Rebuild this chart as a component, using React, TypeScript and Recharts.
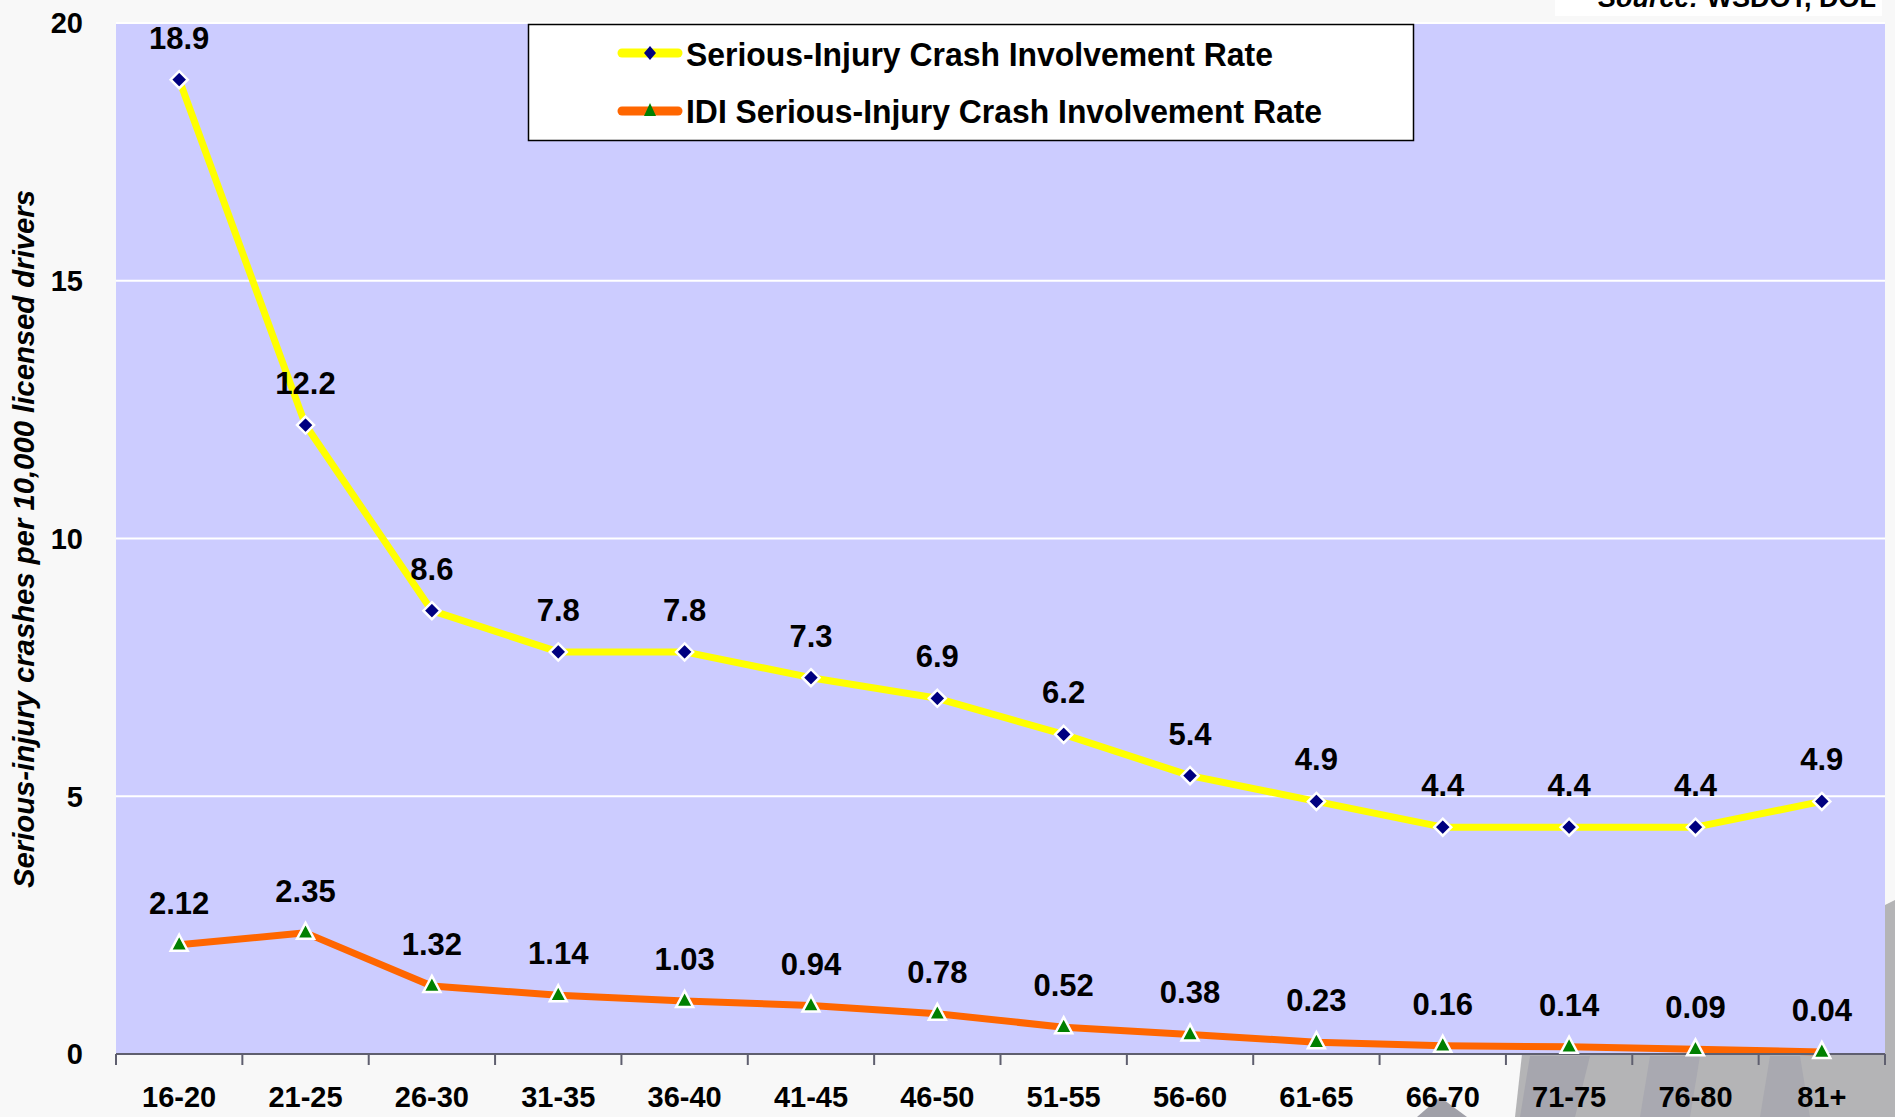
import React from 'react';
import { LineChart, Line, XAxis, YAxis, CartesianGrid, LabelList } from 'recharts';

const ageGroups = ['16-20', '21-25', '26-30', '31-35', '36-40', '41-45', '46-50', '51-55', '56-60', '61-65', '66-70', '71-75', '76-80', '81+'];
const seriousInjuryRate = [18.9, 12.2, 8.6, 7.8, 7.8, 7.3, 6.9, 6.2, 5.4, 4.9, 4.4, 4.4, 4.4, 4.9];
const idiSeriousInjuryRate = [2.12, 2.35, 1.32, 1.14, 1.03, 0.94, 0.78, 0.52, 0.38, 0.23, 0.16, 0.14, 0.09, 0.04];
const yTicks = [0, 5, 10, 15, 20];
const seriesNames = ['Serious-Injury Crash Involvement Rate', 'IDI Serious-Injury Crash Involvement Rate'];
const yAxisTitle = 'Serious-injury crashes per 10,000 licensed drivers';
const sourceNote = ['Source:', 'WSDOT, DOL'];

const data = ageGroups.map((age, i) => ({ age, serious: seriousInjuryRate[i], idi: idiSeriousInjuryRate[i] }));

const W = 1895;
const H = 1117;
const M = { top: 23, right: 10, bottom: 0, left: 0 };
const Y_AXIS_W = 116;
const X_AXIS_H = 63;
const PLOT_W = W - Y_AXIS_W - M.right;
const BAND = PLOT_W / ageGroups.length;
const FONT = '"Liberation Sans", Arial, Helvetica, sans-serif';
const AXIS_COLOR = '#5f5f6f';

const Diamond = (props: any) => {
  const { cx, cy, index } = props;
  if (cx == null || cy == null) return null;
  const r = 8.5;
  return (
    <path key={`d-${index}`} d={`M${cx},${cy - r} L${cx + r},${cy} L${cx},${cy + r} L${cx - r},${cy} Z`} fill="#000080" stroke="#ffffff" strokeWidth={2.5} />
  );
};

const Triangle = (props: any) => {
  const { cx, cy, index } = props;
  if (cx == null || cy == null) return null;
  return (
    <path key={`t-${index}`} d={`M${cx},${cy - 10} L${cx + 8.5},${cy + 6} L${cx - 8.5},${cy + 6} Z`} fill="#008000" stroke="#ffffff" strokeWidth={2.5} strokeLinejoin="miter" />
  );
};

const ValueLabel = (props: any) => {
  const { x, y, value } = props;
  if (x == null || y == null) return null;
  return (
    <text x={x} y={y - 31} textAnchor="middle" fontFamily={FONT} fontWeight="bold" fontSize={31} fill="#000">
      {String(value)}
    </text>
  );
};

const YTick = (props: any) => {
  const { x, y, payload } = props;
  return (
    <text x={x} y={y} dy="0.355em" textAnchor="end" fontFamily={FONT} fontWeight="bold" fontSize={29} fill="#000">
      {payload.value}
    </text>
  );
};

const XTick = (props: any) => {
  const { x, y, payload, index } = props;
  const last = index === ageGroups.length - 1;
  return (
    <g>
      <line x1={x - BAND / 2} y1={y} x2={x - BAND / 2} y2={y + 11} stroke={AXIS_COLOR} strokeWidth={2} />
      {last && <line x1={x + BAND / 2} y1={y} x2={x + BAND / 2} y2={y + 11} stroke={AXIS_COLOR} strokeWidth={2} />}
      <text x={x} y={y + 53} textAnchor="middle" fontFamily={FONT} fontWeight="bold" fontSize={29} fill="#000">
        {payload.value}
      </text>
    </g>
  );
};

export default function App() {
  return (
    <div style={{ position: 'absolute', left: 0, top: 0, width: W, height: H, background: '#f8f8f8', overflow: 'hidden' }}>
      <svg width={W} height={H} style={{ position: 'absolute', left: 0, top: 0 }}>
        <polygon points="1522,1054 1895,1054 1895,1117 1515,1117" fill="#b4b4b6" />
        <polygon points="1530,1056 1590,1056 1575,1117 1520,1117" fill="#a6a6ae" />
        <polygon points="1650,1056 1700,1056 1690,1117 1640,1117" fill="#a9a9b1" />
        <polygon points="1770,1056 1800,1056 1810,1117 1760,1117" fill="#a9a9b0" />
        <polygon points="1885,905 1895,900 1895,1117 1885,1117" fill="#b4b4b6" />
        <polygon points="1417,1117 1440,1097 1467,1117" fill="#a0a0a8" />
        <rect x={1555} y={0} width={327} height={16} fill="#ffffff" />
        <text x={1876} y={7} textAnchor="end" fontFamily={FONT} fontWeight="bold" fontSize={27} fill="#000">
          <tspan fontStyle="italic">{sourceNote[0]}</tspan>
          <tspan dx={8}>{sourceNote[1]}</tspan>
        </text>
        <text
          transform="translate(34,539) rotate(-90)"
          x={0}
          y={0}
          textAnchor="middle"
          fontFamily={FONT}
          fontWeight="bold"
          fontStyle="italic"
          fontSize={29}
          textLength={698}
          lengthAdjust="spacingAndGlyphs"
          fill="#000"
        >
          {yAxisTitle}
        </text>
      </svg>
      <div style={{ position: 'absolute', left: 0, top: 0 }}>
        <LineChart width={W} height={H} data={data} margin={M}>
          <CartesianGrid vertical={false} stroke="#ffffff" strokeWidth={2} fill="#ccccff" fillOpacity={1} />
          <XAxis
            dataKey="age"
            height={X_AXIS_H}
            padding={{ left: BAND / 2, right: BAND / 2 }}
            axisLine={{ stroke: AXIS_COLOR, strokeWidth: 2 }}
            tickLine={false}
            tickSize={0}
            tickMargin={0}
            interval={0}
            tick={<XTick />}
          />
          <YAxis
            width={Y_AXIS_W}
            domain={[0, 20]}
            ticks={yTicks}
            axisLine={false}
            tickLine={false}
            tickSize={0}
            tickMargin={33}
            tick={<YTick />}
          />
          <Line
            dataKey="serious"
            stroke="#ffff00"
            strokeWidth={7}
            strokeLinejoin="round"
            dot={<Diamond />}
            activeDot={false}
            isAnimationActive={false}
          >
            <LabelList dataKey="serious" content={<ValueLabel />} />
          </Line>
          <Line
            dataKey="idi"
            stroke="#ff6600"
            strokeWidth={7}
            strokeLinejoin="round"
            dot={<Triangle />}
            activeDot={false}
            isAnimationActive={false}
          >
            <LabelList dataKey="idi" content={<ValueLabel />} />
          </Line>
        </LineChart>
      </div>
      <svg width={W} height={H} style={{ position: 'absolute', left: 0, top: 0, pointerEvents: 'none' }}>
        <rect x={528.5} y={24.5} width={885} height={116} fill="#ffffff" stroke="#000" strokeWidth={1.5} />
        <line x1={622} y1={53} x2={678} y2={53} stroke="#ffff00" strokeWidth={9} strokeLinecap="round" />
        <path d="M650,46 L656,53 L650,60 L644,53 Z" fill="#000080" />
        <text x={686} y={66} fontFamily={FONT} fontWeight="bold" fontSize={34} textLength={587} lengthAdjust="spacingAndGlyphs" fill="#000">
          {seriesNames[0]}
        </text>
        <line x1={622} y1={111} x2={678} y2={111} stroke="#ff6600" strokeWidth={9} strokeLinecap="round" />
        <path d="M650,103 L656,116 L644,116 Z" fill="#008000" />
        <text x={686} y={123} fontFamily={FONT} fontWeight="bold" fontSize={34} textLength={636} lengthAdjust="spacingAndGlyphs" fill="#000">
          {seriesNames[1]}
        </text>
      </svg>
    </div>
  );
}
